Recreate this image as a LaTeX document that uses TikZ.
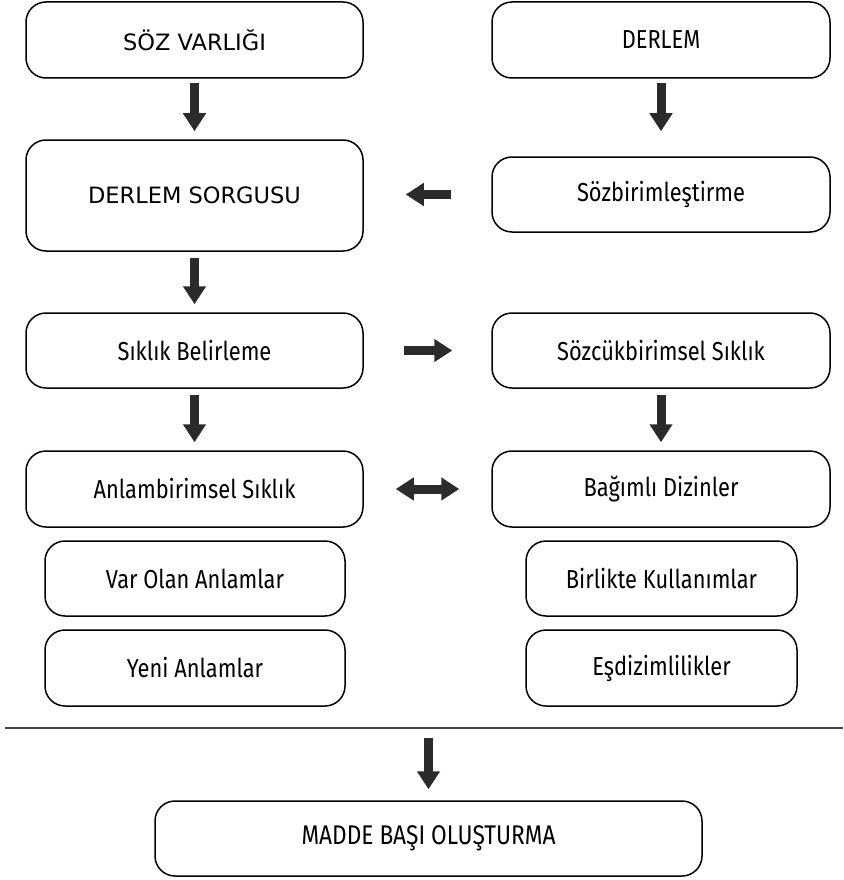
\documentclass[tikz,border=0pt]{standalone}
\usepackage{fontspec}
\setmainfont{Fira Sans}[FakeStretch=0.84]
\newfontfamily\widefont{DejaVu Sans}
\usetikzlibrary{arrows.meta}
\definecolor{arrowgray}{HTML}{2B2B2B}
\definecolor{rulegray}{HTML}{444444}
\tikzset{
  box/.style={draw=black, line width=1.5pt, rounded corners=20pt, inner sep=0pt,
    font=\fontsize{26}{30}\selectfont, align=center},
  widebox/.style={box, font=\widefont\fontsize{22.5}{27}\selectfont},
  fatarrow/.style={draw=arrowgray, line width=9pt,
    -{Triangle[width=22pt,length=18pt]}},
  fatdouble/.style={draw=arrowgray, line width=9pt,
    {Triangle[width=22pt,length=18pt]}-{Triangle[width=22pt,length=18pt]}},
}
\begin{document}
\begin{tikzpicture}[x=1pt,y=-1pt]
\useasboundingbox (0,0) rectangle (843,880);
\node[widebox, minimum width=337pt, minimum height=76pt] (a) at (194.5,40) {SÖZ VARLIĞI};
\node[box, minimum width=338pt, minimum height=76pt] (b) at (661,40) {DERLEM};
\node[widebox, minimum width=337pt, minimum height=111pt] (c) at (194.5,195.5) {DERLEM SORGUSU};
\node[box, minimum width=338pt, minimum height=75pt] (d) at (661,194.5) {Sözbirimleştirme};
\node[box, minimum width=337pt, minimum height=75pt] (e) at (194.5,350.5) {Sıklık Belirleme};
\node[box, minimum width=338pt, minimum height=75pt] (f) at (661,350.5) {Sözcükbirimsel Sıklık};
\node[box, minimum width=337pt, minimum height=76pt] (g) at (194.5,489) {Anlambirimsel Sıklık};
\node[box, minimum width=338pt, minimum height=76pt] (h) at (661,489) {Bağımlı Dizinler};
\node[box, minimum width=300pt, minimum height=75pt] (i) at (195,578.5) {Var Olan Anlamlar};
\node[box, minimum width=271pt, minimum height=75pt] (j) at (661.5,578.5) {Birlikte Kullanımlar};
\node[box, minimum width=300pt, minimum height=76pt] (k) at (195,668) {Yeni Anlamlar};
\node[box, minimum width=271pt, minimum height=76pt] (l) at (661.5,668) {Eşdizimlilikler};
\node[box, minimum width=547pt, minimum height=75pt, font=\fontsize{27}{31}\selectfont] (m) at (428.5,838.5) {MADDE BAŞI OLUŞTURMA};
\coordinate (rl) at (5,728);
\coordinate (rr) at (843,728);
\coordinate (rm) at (428.5,728);
\draw[rulegray, line width=2pt] (rl) -- (rr);
\draw[fatarrow, shorten <=4pt, shorten >=8pt] (a.south) -- (c.north);
\draw[fatarrow, shorten <=4pt, shorten >=25pt] (b.south) -- (b.south |- d.north);
\draw[fatarrow, shorten <=40pt, shorten >=42pt] (d.west) -- (c.east |- d.west);
\draw[fatarrow, shorten <=6pt, shorten >=8pt] (c.south) -- (e.north);
\draw[fatarrow, shorten <=40pt, shorten >=39pt] (e.east) -- (f.west);
\draw[fatarrow, shorten <=6pt, shorten >=8pt] (e.south) -- (g.north);
\draw[fatarrow, shorten <=6pt, shorten >=8pt] (f.south) -- (h.north);
\draw[fatdouble, shorten <=32pt, shorten >=32pt] (g.east) -- (h.west);
\draw[fatarrow, shorten <=10pt, shorten >=11pt] (rm) -- (m.north);
\end{tikzpicture}
\end{document}
